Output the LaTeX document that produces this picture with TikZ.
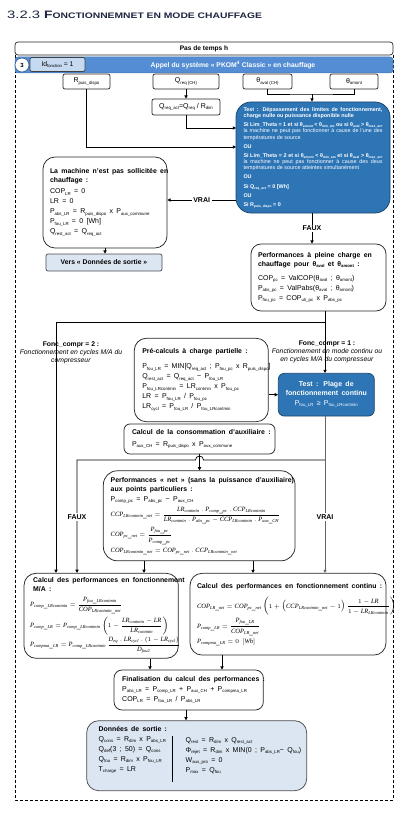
\documentclass[tikz,border=0pt]{standalone}
\usepackage{graphicx}
\usepackage{fontspec}
\setmainfont{Liberation Sans}
\setmathrm{Liberation Serif}
\usetikzlibrary{arrows.meta,calc}
\setlength{\parindent}{0pt}
\hyphenpenalty=10000
\DeclareMathSizes{6.5}{6.5}{4.5}{3.5}
\definecolor{bandblue}{RGB}{84,141,212}
\definecolor{testblue}{RGB}{46,117,182}
\definecolor{lightblue}{RGB}{220,230,242}
\definecolor{idblue}{RGB}{197,217,241}
\definecolor{titlecol}{RGB}{28,36,64}
\newcommand\sbs[1]{\raisebox{-0.35ex}{\scalebox{0.62}{#1}}}
\newcommand\Ttl[2][0pt]{{\fontsize{6.9}{9}\selectfont\bfseries #2\par}\vspace{#1}}
\newcommand\Ln[1]{{\fontsize{7}{10}\selectfont\mbox{#1}\par}}
\newcommand\Mth[1]{{\fontsize{6.5}{10}\selectfont\mbox{$\displaystyle #1$}\par}}
\newcommand\Tp[1]{{\fontsize{5.4}{6.3}\selectfont #1\par}}
\newcommand\md{\mathbin{.}}
\newcommand\V[2]{\mathit{#1}_{\mathit{#2}}}
\tikzset{
  bx/.style={draw=black!85, line width=0.75pt, fill=white, align=left, inner ysep=2pt},
  tbx/.style={bx, fill=testblue, draw=testblue!60!black, text=white},
  inb/.style={draw=black!85, line width=0.7pt, fill=white, rounded corners=2pt, minimum height=15pt, inner sep=0pt, font=\fontsize{7}{8}\selectfont},
  ln/.style={line width=0.7pt, draw=black},
  arr/.style={ln, -{Triangle[length=3.2pt,width=3.2pt]}},
  lbl/.style={fill=white, inner sep=1.5pt, font=\fontsize{7}{8}\selectfont\bfseries},
  flbl/.style={font=\fontsize{6.8}{8.3}\selectfont, align=center, inner sep=0pt},
}
\begin{document}
\begin{tikzpicture}[x=1pt,y=-1pt]
\useasboundingbox (0,0) rectangle (407,813);

% title
\node[anchor=base west, inner sep=0pt, text=titlecol] (title) at (7,18.3)
  {\scalebox{1.38}[1]{\fontsize{10.75}{12}\selectfont 3.2.3}\hspace{4pt}\scalebox{1.29}[1]{\bfseries\fontsize{10.75}{12}\selectfont F\fontsize{8}{12}\selectfont ONCTIONNEMNET EN MODE CHAUFFAGE}};

% outer dashed frame
\draw[line width=0.7pt, dash pattern=on 3pt off 2pt] (15,55) -- (15,800) -- (393,800) -- (393,55);

% header and band
\node[draw=black!85, line width=0.7pt, fill=white, rounded corners=3pt, minimum width=378pt, minimum height=13pt, inner sep=0pt, font=\fontsize{6.6}{7}\selectfont\bfseries] (hdr) at (204,48.5) {Pas de temps h};
\node[draw=bandblue!85!black, line width=0.5pt, fill=bandblue, rounded corners=3pt, minimum width=378pt, minimum height=16pt, inner sep=0pt] (band) at (204,65) {};
\node[text=white, inner sep=0pt, font=\fontsize{6.8}{8}\selectfont\bfseries] (bandtxt) at (233,65) {Appel du système « PKOM\textsuperscript{4} Classic » en chauffage};
\node[circle, draw=bandblue!70!black, line width=0.7pt, fill=white, minimum size=14pt, inner sep=0pt, font=\fontsize{6}{7}\selectfont\bfseries] (num) at (22,65) {3};
\node[draw=black!75, line width=0.7pt, fill=idblue, rounded corners=2pt, minimum width=55pt, minimum height=14pt, inner sep=0pt, font=\fontsize{6.8}{7}\selectfont] (idf) at (57.5,64.5) {Id\sbs{fonction} = 1};

% inputs
\node[inb, minimum width=47pt] (rp) at (86.5,81.5) {R\sbs{puis\_dispo}};
\node[inb, minimum width=66pt] (qreq) at (186,81.5) {Q\sbs{req (CH)}};
\node[inb, minimum width=49pt] (taval) at (267.5,81.5) {θ\sbs{aval (CH)}};
\node[inb, minimum width=48pt] (tamont) at (354,81.5) {θ\sbs{amont}};
\node[inb, minimum width=68pt, minimum height=16pt] (qact) at (186,107) {Q\sbs{req\_act}=Q\sbs{req} / R\sbs{dim}};

% test 1
\node[tbx, rounded corners=15pt, minimum width=154pt, minimum height=111pt, text width=139pt, inner xsep=7.5pt, align=justify] (test1) at (313,157.5) {\setlength{\parskip}{2.8pt}%
\Tp{\textbf{Test : Dépassement des limites de fonctionnement, charge nulle ou puissance disponible nulle}}
\Tp{\textbf{Si Lim\_Theta = 1 et si θ\sbs{amont} < θ\sbs{min\_am} ou si θ\sbs{aval} > θ\sbs{max\_av},} la machine ne peut pas fonctionner à cause de l'une des températures de source}
\Tp{\textbf{OU}}
\Tp{\textbf{Si Lim\_Theta = 2 et si θ\sbs{amont} < θ\sbs{min\_am} et si θ\sbs{aval} > θ\sbs{max\_av},} la machine ne peut pas fonctionner à cause des deux températures de source atteintes simultanément}
\Tp{\textbf{OU}}
\Tp{\textbf{Si Q\sbs{req\_act} = 0 [Wh]}}
\Tp{\textbf{OU}}
\Tp{\textbf{Si R\sbs{puis\_dispo} = 0}}};

% machine not used
\node[bx, rounded corners=12pt, minimum width=124pt, minimum height=91pt, text width=110pt, inner xsep=7pt] (mach) at (105,202.5) {%
\Ttl[1pt]{\mbox{La machine n'est pas sollicitée en}\\\mbox{chauffage :}}
\Ln{COP\sbs{LR} = 0}
\Ln{LR = 0}
\Ln{P\sbs{abs\_LR} = R\sbs{puis\_dispo} x P\sbs{aux\_commune}}
\Ln{P\sbs{fou\_LR} = 0 [Wh]}
\Ln{Q\sbs{rest\_act} = Q\sbs{req\_act}}};
\node[draw=black!70, line width=0.7pt, fill=lightblue, rounded corners=2pt, minimum width=116pt, minimum height=17pt, inner sep=0pt, font=\fontsize{6.8}{8}\selectfont\bfseries] (sortie) at (104,262.5) {Vers « Données de sortie »};

% full load performances
\node[bx, rounded corners=10pt, minimum width=135pt, minimum height=67pt, text width=121pt, inner xsep=7pt] (perf) at (318.5,277.5) {%
\Ttl[4pt]{\mbox{Performances à pleine charge en}\\\mbox{chauffage pour θ\sbs{aval} et θ\sbs{amont} :}}
\Ln{COP\sbs{pc} = ValCOP(θ\sbs{aval} ; θ\sbs{amont})}
\Ln{P\sbs{abs\_pc} = ValPabs(θ\sbs{aval} ; θ\sbs{amont})}
\Ln{P\sbs{fou\_pc} = COP\sbs{uti\_pc} x P\sbs{abs\_pc}}};

% branch labels
\node[flbl] (fc2) at (71,353) {\textbf{Fonc\_compr = 2 :}\\\textit{Fonctionnement en cycles M/A du}\\\textit{compresseur}};
\node[flbl] (fc1) at (327,352) {\textbf{Fonc\_compr = 1 :}\\\textit{Fonctionnement en mode continu ou}\\\textit{en cycles M/A du compresseur}};

% pre-calculs
\node[bx, rounded corners=12pt, minimum width=134pt, minimum height=83.4pt, text width=118pt, inner xsep=8pt] (pre) at (201.3,380) {%
\Ttl[5pt]{\mbox{Pré-calculs à charge partielle :}}
\Ln{P\sbs{fou\_LR} = MIN[Q\sbs{req\_act} ; P\sbs{fou\_pc} x R\sbs{puis\_dispo}]}
\Ln{Q\sbs{rest\_act} = Q\sbs{req\_act} − P\sbs{fou\_LR}}
\Ln{P\sbs{fou\_LRcontmin} = LR\sbs{contmin} x P\sbs{fou\_pc}}
\Ln{LR = P\sbs{fou\_LR} / P\sbs{fou\_pc}}
\Ln{LR\sbs{cycl} = P\sbs{fou\_LR} / P\sbs{fou\_LRcontmin}}};

% test plage
\node[tbx, rounded corners=6pt, minimum width=96pt, minimum height=42.7pt, text width=90pt, inner xsep=3pt, align=center] (testp) at (326.3,394.7) {%
{\fontsize{7}{8.2}\selectfont\bfseries Test : Plage de\\fonctionnement continu\par}\vspace{2.5pt}
{\fontsize{7}{8}\selectfont P\sbs{fou\_LR} ≥ P\sbs{fou\_LRcontmin}\par}};

% auxiliaire
\node[bx, rounded corners=6pt, minimum width=151pt, minimum height=30pt, text width=135pt, inner xsep=8pt] (aux) at (199.5,439) {%
\Ttl[2pt]{\mbox{Calcul de la consommation d'auxiliaire :}}
\Ln{P\sbs{aux\_CH} = R\sbs{puis\_dispo} x P\sbs{aux\_commune}}};

% net performances
\node[bx, rounded corners=14pt, minimum width=191.7pt, minimum height=90pt, text width=177pt, inner xsep=7.35pt] (net) at (199.2,515.8) {\setlength{\lineskip}{3.5pt}%
\Ttl{\mbox{Performances « net » (sans la puissance d'auxiliaire)}\\\mbox{aux points particuliers :}}
\Ln{P\sbs{comp\_pc} = P\sbs{abs\_pc} − P\sbs{aux\_CH}}
\Mth{\V{CCP}{LRcontmin\_net}=\frac{\V{LR}{contmin}\md\V{P}{comp\_pc}\md\V{CCP}{LRcontmin}}{\V{LR}{contmin}\md\V{P}{abs\_pc}-\V{CCP}{LRcontmin}\md\V{P}{aux\_CH}}}
\Mth{\V{COP}{pc\_net}=\frac{\V{P}{fou\_pc}}{\V{P}{comp\_pc}}}
\Mth{\V{COP}{LRcontmin\_net}=\V{COP}{pc\_net}\md\V{CCP}{LRcontmin\_net}}};

% M/A
\node[bx, rounded corners=12pt, minimum width=154.3pt, minimum height=85pt, text width=142pt, inner xsep=6pt] (ma) at (101.2,615.8) {\setlength{\lineskip}{2.5pt}%
\Ttl[5pt]{\mbox{\hspace{3pt}Calcul des performances en fonctionnement}\\\mbox{\hspace{3pt}M/A :}}
\Mth{\V{P}{comp\_LRcontmin}=\frac{\V{P}{fou\_LRcontmin}}{\V{COP}{LRcontmin\_net}}}
\Mth{\V{P}{comp\_LR}=\V{P}{comp\_LRcontmin}\left(1-\frac{\V{LR}{contmin}-\mathit{LR}}{\V{LR}{contmin}}\right)}
\Mth{\V{P}{compma\_LR}=\V{P}{comp\_LRcontmin}\,\frac{\V{D}{eq}\md\V{LR}{cycl}\md(1-\V{LR}{cycl})}{\V{D}{fou2}}}};

% continu
\node[bx, rounded corners=12pt, minimum width=196pt, minimum height=81.7pt, text width=182pt, inner xsep=7pt] (cont) at (288,614.2) {\setlength{\lineskip}{3pt}%
\Ttl[5pt]{\mbox{Calcul des performances en fonctionnement continu :}}
\Mth{\V{COP}{LR\_net}=\V{COP}{pc\_net}\left(1+\left(\V{CCP}{LRcontmin\_net}-1\right)\frac{1-\mathit{LR}}{1-\V{LR}{LRcontmin}}\right)}
\Mth{\V{P}{comp\_LR}=\frac{\V{P}{fou\_LR}}{\V{COP}{LR\_net}}}
\Mth{\V{P}{compma\_LR}=0\ [\mathit{Wh}]}};

% finalisation
\node[bx, rounded corners=8pt, minimum width=149.3pt, minimum height=40pt, text width=133pt, inner xsep=8pt] (fin) at (188.7,690) {%
\Ttl{\mbox{Finalisation du calcul des performances :}}
\Ln{P\sbs{abs\_LR} = P\sbs{comp\_LR} + P\sbs{aux\_CH} + P\sbs{compma\_LR}}
\Ln{COP\sbs{LR} = P\sbs{fou\_LR} / P\sbs{abs\_LR}}};

% output data
\node[draw=black!70, line width=0.75pt, fill=lightblue, rounded corners=12pt, minimum width=220pt, minimum height=70pt, inner sep=0pt] (out) at (196.7,755.7) {};
\node[anchor=north west, inner sep=0pt, text width=80pt, align=left] (outl) at (98.5,726) {%
\Ttl{\mbox{Données de sortie :}}
\Ln{Q\sbs{cons} = R\sbs{dim} x P\sbs{abs\_LR}}
\Ln{Q\sbs{def}(3 ; 50) = Q\sbs{cons}}
\Ln{Q\sbs{fou} = R\sbs{dim} x P\sbs{fou\_LR}}
\Ln{T\sbs{charge} = LR}};
\node[anchor=north west, inner sep=0pt, text width=115pt, align=left] (outr) at (185.5,737) {%
\Ln{Q\sbs{rest} = R\sbs{dim} x Q\sbs{rest\_act}}
\Ln{Φ\sbs{rejet} = R\sbs{dim} x MIN(0 ; P\sbs{abs\_LR}− Q\sbs{fou})}
\Ln{W\sbs{aux\_pro} = 0}
\Ln{P\sbs{max} = Q\sbs{fou}}};
\draw[line width=0.8pt] (172,736) -- (172,782);

% ---- connectors ----
\coordinate (jn) at (312,94);
\coordinate (qin) at (236,128);
\coordinate (rin) at (236,147);
\coordinate (vin) at (236,200);
\coordinate (br) at (325,322);
\coordinate (brl) at (56,322);
\coordinate (fx) at (325,460);
\coordinate (fl) at (77,460);
\coordinate (hop) at (199.5,460);
\coordinate (c144) at (144,0);
\coordinate (c253) at (253,0);
\coordinate (c150) at (150,0);
\coordinate (c222) at (222,0);
\coordinate (c186) at (186,0);

\draw[ln] (taval.south) |- (jn) -| (tamont.south);
\draw[arr] (jn) -- (jn |- test1.north);
\draw[arr] (qreq) -- (qact);
\draw[arr] (qact.south) |- (qin);
\draw[arr] (rp.south) |- (rin);
\draw[arr] (vin) -- (mach.east |- vin) node[lbl, midway] (vrai1) {VRAI};
\draw[arr] (mach.south) -- (mach.south |- sortie.north);
\draw[arr] (test1.south -| jn) -- (jn |- perf.north) node[lbl, midway] (faux1) {FAUX};
\draw[ln] (br |- perf.south) -- (br) -- (brl);
\draw[arr] (brl) -- (brl |- ma.north);
\draw[arr] (br) -- (br |- testp.north);
\draw[arr] (pre.east |- testp.west) -- (testp.west);
\draw[arr] (aux.south) -- (aux.south |- net.north);
\draw[arr, draw=black!60, line width=1pt] (br |- testp.south) -- (br |- cont.north);
\draw[arr] (fx) -- ([xshift=4pt]hop) arc[start angle=0, end angle=-180, radius=4] -- (fl) -- (fl |- ma.north);
\node[lbl] (faux2) at (77,517) {FAUX};
\node[lbl] (vrai2) at (325,517) {VRAI};
\draw[arr] (net.south -| c144) -- (ma.north -| c144);
\draw[arr] (net.south -| c253) -- (cont.north -| c253);
\draw[arr] (ma.south -| c150) -- (fin.north -| c150);
\draw[arr] (cont.south -| c222) -- (fin.north -| c222);
\draw[arr] (fin.south -| c186) -- (out.north -| c186);
\end{tikzpicture}
\end{document}
